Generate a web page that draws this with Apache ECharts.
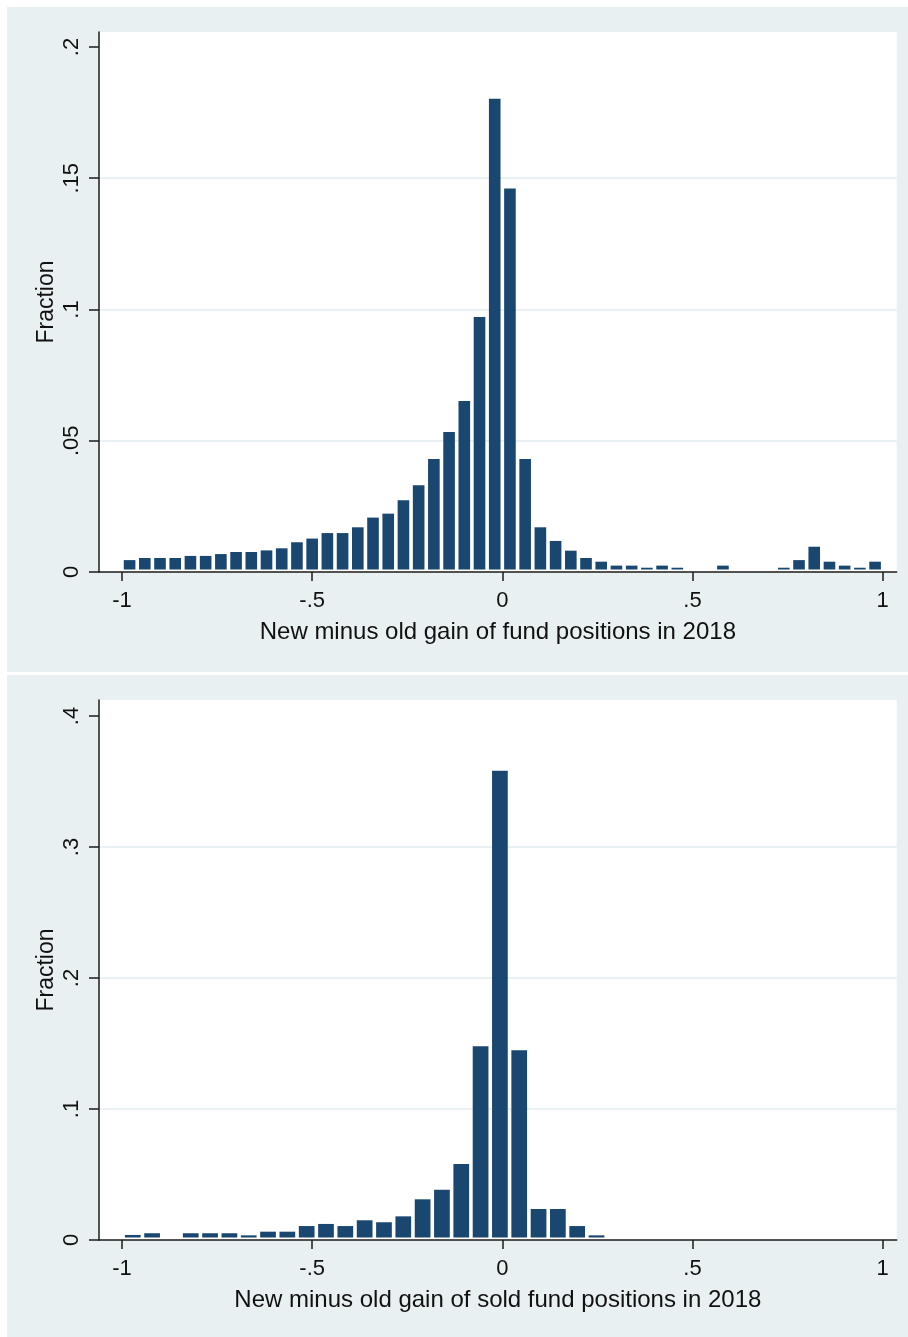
<!DOCTYPE html>
<html>
<head>
<meta charset="utf-8">
<script src="https://cdn.jsdelivr.net/npm/echarts@6/dist/echarts.min.js"></script>
<style>
  html, body { margin: 0; padding: 0; background: #ffffff; }
  #wrap { position: relative; width: 908px; height: 1337px; overflow: hidden; }
  .panel { position: absolute; left: 7px; width: 901px; background: #e8f0f2; }
  #chart { position: absolute; left: 0; top: 0; width: 908px; height: 1337px; }
</style>
</head>
<body>
<div id="wrap">
  <div class="panel" style="top:7px;height:665px"></div>
  <div class="panel" style="top:675px;height:662px"></div>
  <div id="chart"></div>
</div>
<script>
// Upper histogram: all fund positions, bins of width 0.04 starting at -1
const bins1Start = -1.0;
const bins1Width = 0.04;
const fraction1 = [
  0.0051, 0.0059, 0.0059, 0.0059, 0.0067, 0.0067, 0.0074, 0.0082, 0.0082, 0.0088,
  0.0096, 0.0119, 0.0133, 0.0154, 0.0154, 0.0176, 0.0213, 0.0228, 0.0279, 0.0336,
  0.0436, 0.0539, 0.0657, 0.0977, 0.1808, 0.1467, 0.0436, 0.0176, 0.0124, 0.0087,
  0.0059, 0.0045, 0.0030, 0.0030, 0.0022, 0.0030, 0.0022, 0, 0, 0.0030,
  0, 0, 0, 0.0022, 0.0051, 0.0102, 0.0045, 0.0030, 0.0022, 0.0045
];

// Lower histogram: sold fund positions, bins start at the sample minimum
const bins2Start = -0.997;
const bins2Width = 0.0508;
const fraction2 = [
  0.0050, 0.0063, 0, 0.0063, 0.0063, 0.0063, 0.0047, 0.0075, 0.0075, 0.0118,
  0.0134, 0.0118, 0.0162, 0.0147, 0.0192, 0.0322, 0.0395, 0.0592, 0.1490, 0.3594,
  0.1460, 0.0248, 0.0248, 0.0118, 0.0047
];

// Axis ticks and labels (Stata-style, no leading zero)
const xTickValues = [-1, -0.5, 0, 0.5, 1];
const xTickLabels = ['-1', '-.5', '0', '.5', '1'];
const yTickValues1 = [0, 0.05, 0.1, 0.15, 0.2];
const yTickLabels1 = ['0', '.05', '.1', '.15', '.2'];
const yTickValues2 = [0, 0.1, 0.2, 0.3, 0.4];
const yTickLabels2 = ['0', '.1', '.2', '.3', '.4'];

const xTitle1 = 'New minus old gain of fund positions in 2018';
const xTitle2 = 'New minus old gain of sold fund positions in 2018';
const yTitle = 'Fraction';

const FONT = '"Liberation Sans", Arial, sans-serif';
const TEXT = '#111111';
const AXIS = '#1c1c1c';
const BAR = '#1a476f';
const GRIDLINE = '#e2ecf0';

function binRows(start, width, values) {
  return values.map((v, i) => [start + i * width, start + (i + 1) * width, v]);
}

function pickLabel(values, labels) {
  return function (v) {
    for (let i = 0; i < values.length; i++) {
      if (Math.abs(values[i] - v) < 1e-9) return labels[i];
    }
    return '';
  };
}

// Each bin is a filled rectangle with a thin light outline gap
function histRender(params, api) {
  const x0 = api.value(0), x1 = api.value(1), v = api.value(2);
  if (!(v > 0)) return null;
  const a = api.coord([x0, 0]);
  const b = api.coord([x1, v]);
  const side = 1.8, topIn = 1.5, baseIn = 2.5;
  const h = Math.max(a[1] - b[1] - topIn - baseIn, 1);
  return {
    type: 'rect',
    shape: { x: a[0] + side, y: a[1] - baseIn - h, width: b[0] - a[0] - 2 * side, height: h },
    style: { fill: BAR }
  };
}

function xAxisFor(gridIndex, title) {
  return {
    type: 'value', gridIndex: gridIndex,
    min: -1.0604, max: 1.0368,
    axisLine: { show: true, onZero: false, lineStyle: { color: AXIS, width: 1.5 } },
    axisTick: { show: true, customValues: xTickValues, length: 9, lineStyle: { color: AXIS, width: 1.5 } },
    axisLabel: {
      customValues: xTickValues, formatter: pickLabel(xTickValues, xTickLabels),
      margin: 18, fontSize: 22, color: TEXT, fontFamily: FONT
    },
    splitLine: { show: false },
    name: title, nameLocation: 'middle', nameGap: 48, nameMoveOverlap: false,
    nameTextStyle: { fontSize: 24, color: TEXT, fontFamily: FONT }
  };
}

function yAxisFor(gridIndex, max, interval, ticks, labels) {
  return {
    type: 'value', gridIndex: gridIndex,
    min: 0, max: max, interval: interval,
    axisLine: { show: true, onZero: false, lineStyle: { color: AXIS, width: 1.5 } },
    axisTick: { show: true, customValues: ticks, length: 10, lineStyle: { color: AXIS, width: 1.5 } },
    axisLabel: {
      customValues: ticks, formatter: pickLabel(ticks, labels),
      rotate: 90, margin: 16, fontSize: 22, color: TEXT, fontFamily: FONT
    },
    splitLine: { show: true, showMinLine: false, showMaxLine: false, lineStyle: { color: GRIDLINE, width: 1.5 } },
    name: yTitle, nameLocation: 'middle', nameGap: 41, nameMoveOverlap: false,
    nameTextStyle: { fontSize: 23, color: TEXT, fontFamily: FONT }
  };
}

const chart = echarts.init(document.getElementById('chart'), null, { renderer: 'canvas' });
chart.setOption({
  backgroundColor: 'transparent',
  animation: false,
  grid: [
    { left: 99, top: 32, width: 797.7, height: 540, show: true, backgroundColor: '#ffffff', borderWidth: 0 },
    { left: 99, top: 700, width: 797.7, height: 540, show: true, backgroundColor: '#ffffff', borderWidth: 0 }
  ],
  xAxis: [xAxisFor(0, xTitle1), xAxisFor(1, xTitle2)],
  yAxis: [
    yAxisFor(0, 0.2057, 0.05, yTickValues1, yTickLabels1),
    yAxisFor(1, 0.4122, 0.1, yTickValues2, yTickLabels2)
  ],
  series: [
    {
      type: 'custom', xAxisIndex: 0, yAxisIndex: 0,
      renderItem: histRender, encode: { x: [0, 1], y: 2 },
      data: binRows(bins1Start, bins1Width, fraction1)
    },
    {
      type: 'custom', xAxisIndex: 1, yAxisIndex: 1,
      renderItem: histRender, encode: { x: [0, 1], y: 2 },
      data: binRows(bins2Start, bins2Width, fraction2)
    }
  ]
});
</script>
</body>
</html>
